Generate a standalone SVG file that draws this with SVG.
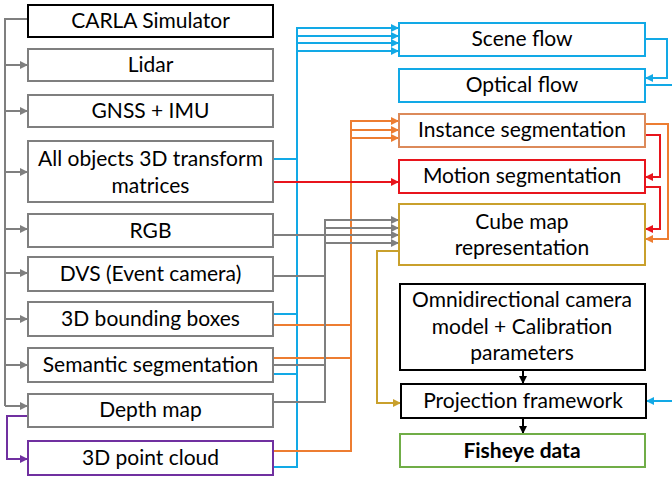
<svg xmlns="http://www.w3.org/2000/svg" width="672" height="478" viewBox="0 0 672 478">
<style>
text{font-family:Lato,"Liberation Sans",sans-serif;font-size:21px;fill:#000;text-anchor:middle}
.box{fill:#fff;stroke-width:2}
.g{stroke:#7f7f7f}.k{stroke:#000}.b{stroke:#12a9e6}.o{stroke:#dc8a5a}.r{stroke:#e8141c}.y{stroke:#c9a02c}.gr{stroke:#70ad47}.p{stroke:#7030a0}
.c{fill:none;stroke-width:2}
.cg{stroke:#7f7f7f}.cb{stroke:#12a9e6}.co{stroke:#ed7d31}.cr{stroke:#e8141c}.cy{stroke:#c9a02c}.cp{stroke:#7030a0}.ck{stroke:#000}
</style>
<defs>
<marker id="ag" markerUnits="userSpaceOnUse" markerWidth="8" markerHeight="8" refX="8" refY="4" orient="auto"><path d="M0,0L8,4L0,8z" fill="#7f7f7f"/></marker>
<marker id="ab" markerUnits="userSpaceOnUse" markerWidth="8" markerHeight="8" refX="8" refY="4" orient="auto"><path d="M0,0L8,4L0,8z" fill="#12a9e6"/></marker>
<marker id="ao" markerUnits="userSpaceOnUse" markerWidth="8" markerHeight="8" refX="8" refY="4" orient="auto"><path d="M0,0L8,4L0,8z" fill="#ed7d31"/></marker>
<marker id="ar" markerUnits="userSpaceOnUse" markerWidth="8" markerHeight="8" refX="8" refY="4" orient="auto"><path d="M0,0L8,4L0,8z" fill="#e8141c"/></marker>
<marker id="ay" markerUnits="userSpaceOnUse" markerWidth="8" markerHeight="8" refX="8" refY="4" orient="auto"><path d="M0,0L8,4L0,8z" fill="#c9a02c"/></marker>
<marker id="ap" markerUnits="userSpaceOnUse" markerWidth="8" markerHeight="8" refX="8" refY="4" orient="auto"><path d="M0,0L8,4L0,8z" fill="#7030a0"/></marker>
<marker id="ak" markerUnits="userSpaceOnUse" markerWidth="8" markerHeight="8" refX="8" refY="4" orient="auto"><path d="M0,0L8,4L0,8z" fill="#000"/></marker>
</defs>
<rect width="672" height="478" fill="#fff"/>
<g id="connectors">
<path class="c cg" d="M28,19H5V406"/>
<path class="c cg" marker-end="url(#ag)" d="M5,65H28"/>
<path class="c cg" marker-end="url(#ag)" d="M5,111H28"/>
<path class="c cg" marker-end="url(#ag)" d="M5,172H28"/>
<path class="c cg" marker-end="url(#ag)" d="M5,229H28"/>
<path class="c cg" marker-end="url(#ag)" d="M5,273H28"/>
<path class="c cg" marker-end="url(#ag)" d="M5,319H28"/>
<path class="c cg" marker-end="url(#ag)" d="M5,365H28"/>
<path class="c cg" marker-end="url(#ag)" d="M5,406H28"/>
<path class="c cp" marker-end="url(#ap)" d="M28,416H7V459H28"/>
<path class="c cb" d="M273,159H297M273,314H297M273,374H297"/>
<path class="c cb" marker-end="url(#ab)" d="M273,467H297V28H399"/>
<path class="c cb" marker-end="url(#ab)" d="M297,36H399"/>
<path class="c cb" marker-end="url(#ab)" d="M297,43H399"/>
<path class="c cb" marker-end="url(#ab)" d="M297,51H399"/>
<path class="c cb" marker-end="url(#ab)" d="M645,39H667V78H645"/>
<path class="c cb" d="M645,85H672"/>
<path class="c cb" marker-end="url(#ab)" d="M672,401H646"/>
<path class="c co" d="M273,325H351M273,358H351"/>
<path class="c co" marker-end="url(#ao)" d="M273,451H351V121H399"/>
<path class="c co" marker-end="url(#ao)" d="M351,130H399"/>
<path class="c co" marker-end="url(#ao)" d="M351,138H399"/>
<path class="c co" marker-end="url(#ao)" d="M645,124H668V239H645"/>
<path class="c cr" marker-end="url(#ar)" d="M273,182H399"/>
<path class="c cr" marker-end="url(#ar)" d="M645,135H660V177H645"/>
<path class="c cr" marker-end="url(#ar)" d="M645,187H660V229H645"/>
<path class="c cg" marker-end="url(#ag)" d="M273,235H399"/>
<path class="c cg" d="M273,276H325M273,365H325"/>
<path class="c cg" marker-end="url(#ag)" d="M273,402H325V220H399"/>
<path class="c cg" marker-end="url(#ag)" d="M325,228H399"/>
<path class="c cg" marker-end="url(#ag)" d="M325,243H399"/>
<path class="c cy" marker-end="url(#ay)" d="M399,251H377V403H401"/>
<path class="c ck" marker-end="url(#ak)" d="M523,370V384"/>
<path class="c ck" marker-end="url(#ak)" d="M523,418V434"/>
</g>
<g id="carla"><rect class="box k" x="28" y="5" width="245" height="32"/><text x="150.5" y="28">CARLA Simulator</text></g>
<g id="lidar"><rect class="box g" x="28" y="49" width="245" height="32"/><text x="150.5" y="72">Lidar</text></g>
<g id="gnss"><rect class="box g" x="28" y="95" width="245" height="32"/><text x="150.5" y="118">GNSS + IMU</text></g>
<g id="transforms"><rect class="box g" x="28" y="141" width="245" height="61"/><text x="150.5" y="166">All objects 3D transform</text><text x="150.5" y="193">matrices</text></g>
<g id="rgb"><rect class="box g" x="28" y="214" width="245" height="33"/><text x="150.5" y="238">RGB</text></g>
<g id="dvs"><rect class="box g" x="28" y="257" width="245" height="34"/><text x="150.5" y="281">DVS (Event camera)</text></g>
<g id="bbox"><rect class="box g" x="28" y="302" width="245" height="34"/><text x="150.5" y="326">3D bounding boxes</text></g>
<g id="semseg"><rect class="box g" x="28" y="348" width="245" height="34"/><text x="150.5" y="372">Semantic segmentation</text></g>
<g id="depth"><rect class="box g" x="28" y="394" width="245" height="33"/><text x="150.5" y="417">Depth map</text></g>
<g id="pointcloud"><rect class="box p" x="28" y="441" width="245" height="34"/><text x="150.5" y="465">3D point cloud</text></g>
<g id="sceneflow"><rect class="box b" x="399" y="23" width="246" height="33"/><text x="522" y="46">Scene flow</text></g>
<g id="opticalflow"><rect class="box b" x="399" y="69" width="246" height="33"/><text x="522" y="92">Optical flow</text></g>
<g id="instseg"><rect class="box o" x="399" y="114" width="246" height="33"/><text x="522" y="137">Instance segmentation</text></g>
<g id="motionseg"><rect class="box r" x="399" y="160" width="246" height="33"/><text x="522" y="183">Motion segmentation</text></g>
<g id="cubemap"><rect class="box y" x="399" y="204" width="246" height="61"/><text x="522" y="229">Cube map</text><text x="522" y="255">representation</text></g>
<g id="omni"><rect class="box k" x="400" y="284" width="245" height="86"/><text x="522" y="307">Omnidirectional camera</text><text x="522" y="334">model + Calibration</text><text x="522" y="360">parameters</text></g>
<g id="projection"><rect class="box k" x="401" y="384" width="245" height="34"/><text x="523" y="408">Projection framework</text></g>
<g id="fisheye"><rect class="box gr" x="400" y="434" width="245" height="33"/><text x="522" y="458" font-weight="bold">Fisheye data</text></g>
</svg>
